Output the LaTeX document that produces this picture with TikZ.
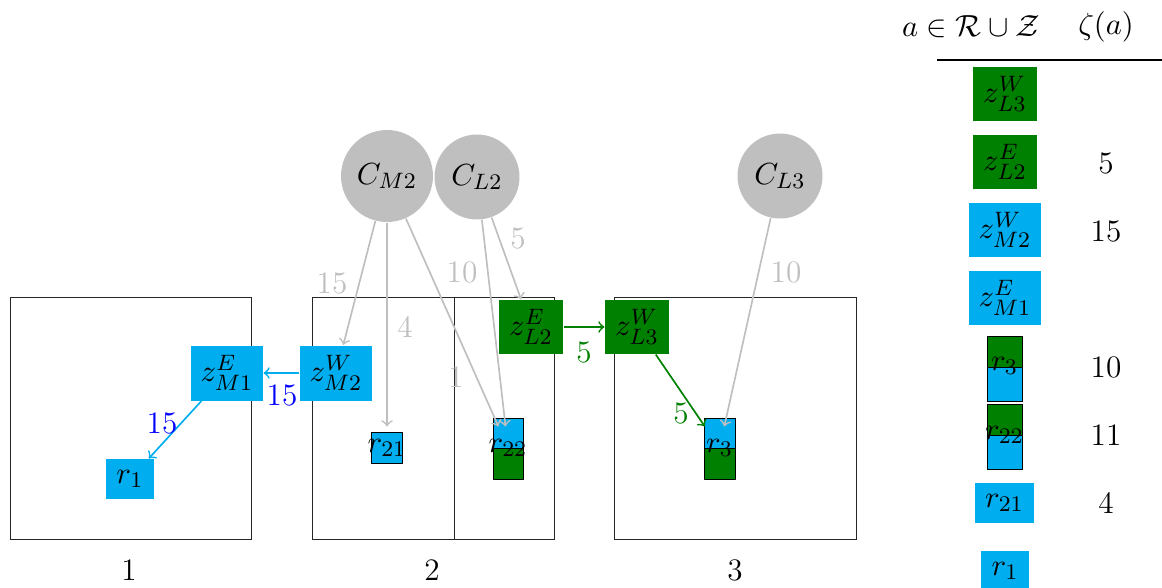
\documentclass[tikz,border=0pt]{standalone}
\usepackage{amsmath,amssymb}
\definecolor{zblue}{RGB}{0,174,239}
\definecolor{zgreen}{RGB}{0,128,0}
\definecolor{cgray}{RGB}{191,191,191}
\definecolor{lblue}{RGB}{0,0,255}
\begin{document}
\begin{tikzpicture}[x=0.0126cm,y=-0.0126cm,
  every node/.style={font=\fontsize{11.2pt}{13pt}\selectfont},
  cnode/.style={circle, fill=cgray, inner sep=0, minimum size=1.071cm},
  zbox/.style={inner sep=0, minimum width=0.907cm, minimum height=0.693cm},
  zboxs/.style={inner sep=0, minimum width=0.806cm, minimum height=0.68cm},
  rt/.style={inner sep=0, minimum height=0.529cm, minimum width=0.39cm},
  garrow/.style={->, semithick, draw=cgray},
  grarrow/.style={->, semithick, draw=zgreen},
  barrow/.style={->, semithick, draw=zblue},
  glabel/.style={text=cgray, inner sep=1pt},
  grlabel/.style={text=zgreen, inner sep=1pt},
  bllabel/.style={text=lblue, inner sep=1pt},
  regbox/.style={draw=black!85, line width=0.3pt}]
\useasboundingbox (0,0) rectangle (1162,587);

% regions
\draw[regbox] (10,297) rectangle (251,539);
\draw[regbox] (312,297) rectangle (554,539);
\draw[regbox] (454,297) -- (454,539);
\draw[regbox] (614,297) rectangle (856,539);
\node (n1) at (129,570) {1};
\node (n2) at (432,570) {2};
\node (n3) at (735,570) {3};

% centers
\node[cnode, minimum size=1.159cm] (CM2) at (387,176) {$C_{M2}$};
\node[cnode] (CL2) at (477,177) {$C_{L2}$};
\node[cnode] (CL3) at (780,176) {$C_{L3}$};

% z nodes
\node[zbox, fill=zblue] (zM1E) at (227,373) {$z^E_{M1}$};
\node[zbox, fill=zblue] (zM2W) at (336,373) {$z^W_{M2}$};
\node[zboxs, fill=zgreen] (zL2E) at (531,327) {$z^E_{L2}$};
\node[zboxs, fill=zgreen] (zL3W) at (637,327) {$z^W_{L3}$};

% r nodes
\node[fill=zblue, inner sep=0, minimum width=0.605cm, minimum height=0.504cm] (r1) at (130,479) {$r_1$};
\filldraw[fill=zblue, draw=black, line width=0.3pt] (371.5,432.5) rectangle (402.5,463.5);
\node[rt] (r21) at (387,448) {$r_{21}$};
\filldraw[fill=zblue, draw=black, line width=0.3pt] (493,418) rectangle (523,448);
\filldraw[fill=zgreen, draw=black, line width=0.3pt] (493,448) rectangle (523,479);
\node[rt] (r22) at (508,448) {$r_{22}$};
\filldraw[fill=zblue, draw=black, line width=0.3pt] (704,418) rectangle (735,448);
\filldraw[fill=zgreen, draw=black, line width=0.3pt] (704,448) rectangle (735,479);
\node[rt] (r3) at (719.5,448) {$r_3$};

% connectors
\draw[garrow] (CM2) -- (zM2W);
\draw[garrow] (CM2) -- (r21);
\draw[garrow] (CM2) -- (r22);
\draw[garrow] (CL2) -- (r22);
\draw[garrow] (CL2) -- (zL2E);
\draw[garrow] (CL3) -- (r3);
\draw[grarrow] (zL2E) -- (zL3W);
\draw[grarrow] (zL3W) -- (r3);
\draw[barrow] (zM2W) -- (zM1E);
\draw[barrow] (zM1E) -- (r1);

% labels
\node[glabel] (la) at (332,283) {15};
\node[glabel] (lb) at (405,327) {4};
\node[glabel] (lc) at (462,272) {10};
\node[glabel] (ld) at (456,377) {1};
\node[glabel] (le) at (518,238) {5};
\node[glabel] (lf) at (786,272) {10};
\node[grlabel] (lg) at (584,352) {5};
\node[grlabel] (lh) at (681,413) {5};
\node[bllabel] (li) at (282,395) {15};
\node[bllabel] (lj) at (162,423) {15};

% table
\node (h1) at (971,27) {$a\in\mathcal{R}\cup\mathcal{Z}$};
\node (h2) at (1106,27) {$\zeta(a)$};
\draw[line width=0.4pt] (937,60) -- (1162,60);

\node[zboxs, fill=zgreen, minimum height=0.693cm] (tzL3W) at (1005,94) {$z^W_{L3}$};
\node[zboxs, fill=zgreen, minimum height=0.693cm] (tzL2E) at (1005,162) {$z^E_{L2}$};
\node (v1) at (1106,163) {5};
\node[zbox, fill=zblue] (tzM2W) at (1005,230) {$z^W_{M2}$};
\node (v2) at (1106,231) {15};
\node[zbox, fill=zblue] (tzM1E) at (1005,298) {$z^E_{M1}$};
\filldraw[fill=zgreen, draw=black, line width=0.3pt] (987,336) rectangle (1022,367);
\filldraw[fill=zblue, draw=black, line width=0.3pt] (987,367) rectangle (1022,401);
\node[rt] (tr3) at (1004.5,366) {$r_3$};
\node (v3) at (1106,367) {10};
\filldraw[fill=zgreen, draw=black, line width=0.3pt] (987,404) rectangle (1022,435);
\filldraw[fill=zblue, draw=black, line width=0.3pt] (987,435) rectangle (1022,469);
\node[rt] (tr22) at (1004.5,435) {$r_{22}$};
\node (v4) at (1106,435) {11};
\node[fill=zblue, inner sep=0, minimum width=0.743cm, minimum height=0.504cm] (tr21) at (1004.5,503) {$r_{21}$};
\node (v5) at (1106,503) {4};
\node[fill=zblue, inner sep=0, minimum width=0.605cm, minimum height=0.504cm] (tr1) at (1005,571) {$r_1$};
\end{tikzpicture}
\end{document}
